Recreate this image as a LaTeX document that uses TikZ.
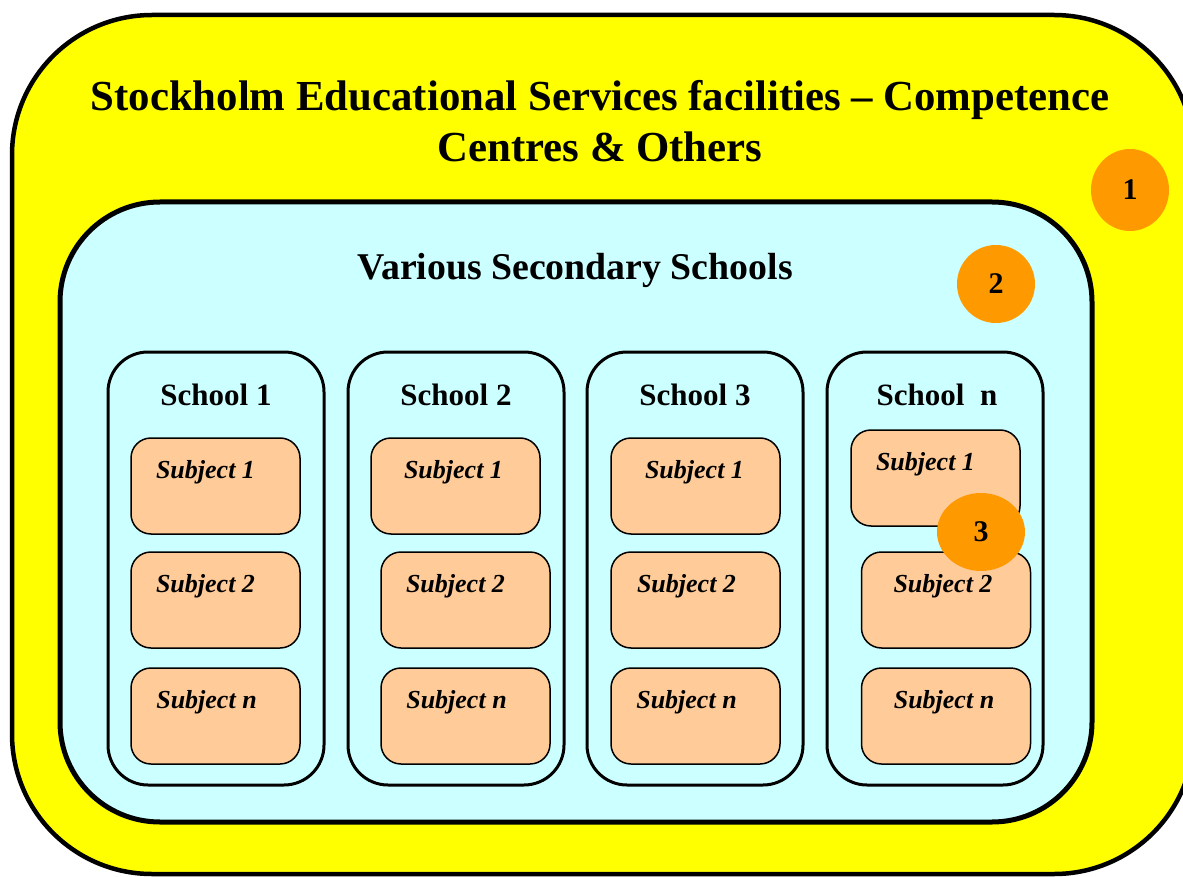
\documentclass[tikz,border=0pt]{standalone}
\usepackage{fontspec}
\setmainfont{Liberation Serif}
\usetikzlibrary{positioning,shapes.geometric}
\definecolor{facyellow}{HTML}{FFFF00}
\definecolor{schoolcyan}{HTML}{CCFFFF}
\definecolor{subjpeach}{HTML}{FFCC99}
\definecolor{markorange}{HTML}{FF9900}
\begin{document}
\begin{tikzpicture}[x=1pt, y=-1pt,
    outer-box/.style={draw=black, fill=facyellow, line width=4.5pt, rounded corners=140pt, minimum width=1182pt, minimum height=859pt, inner sep=0pt},
    various-box/.style={draw=black, fill=schoolcyan, line width=5pt, rounded corners=100pt, minimum width=1032pt, minimum height=620pt, inner sep=0pt},
    school-box/.style={draw=black, fill=schoolcyan, line width=3pt, rounded corners=40pt, minimum width=216pt, minimum height=433pt, inner sep=0pt},
    subject-box/.style={draw=black, fill=subjpeach, line width=1.5pt, rounded corners=20pt, minimum width=169pt, minimum height=96pt, inner sep=0pt},
    subject-text/.style={font=\fontsize{26}{30}\selectfont\bfseries\itshape, inner sep=0pt},
    school-text/.style={font=\fontsize{31}{36}\selectfont\bfseries, inner sep=0pt},
    marker/.style={ellipse, fill=markorange, inner sep=0pt, font=\fontsize{30}{34}\selectfont\bfseries},
  ]
  \useasboundingbox (0,0) rectangle (1183,877);
  \clip (0,0) rectangle (1183,877);

  % Containers
  \node[outer-box] (facilities) at (603,444.5) {};
  \node[font=\fontsize{42.8}{51}\selectfont\bfseries, align=center] (title) at (600,121) {Stockholm Educational Services facilities -- Competence\\Centres \& Others};
  \node[various-box] (various) at (576,512) {};
  \node[font=\fontsize{37.8}{42}\selectfont\bfseries] (variousT) at (575,270) {Various Secondary Schools};

  % Schools
  \node[school-box] (sch1) at (216,568.5) {};
  \node[school-box] (sch2) at (456,568.5) {};
  \node[school-box] (sch3) at (695,568.5) {};
  \node[school-box] (schN) at (935,568.5) {};
  \node[school-text, below=33pt of sch1.north] {School 1};
  \node[school-text, below=33pt of sch2.north] {School 2};
  \node[school-text, below=33pt of sch3.north] {School 3};
  \node[school-text, below=33pt of schN.north, xshift=2pt] {School~ n};

  % Subjects
  \node[subject-box] (s11) at (215.5,486) {};
  \node[subject-box] (s12) at (215.5,600) {};
  \node[subject-box] (s1n) at (215.5,716) {};
  \node[subject-box] (s21) at (455.5,486) {};
  \node[subject-box] (s22) at (465.5,600) {};
  \node[subject-box] (s2n) at (465.5,716) {};
  \node[subject-box] (s31) at (695.5,486) {};
  \node[subject-box] (s32) at (695.5,600) {};
  \node[subject-box] (s3n) at (695.5,716) {};
  \node[subject-box] (sN1) at (935.5,478) {};
  \node[subject-box] (sN2) at (946,600) {};
  \node[subject-box] (sNn) at (946,716) {};

  \node[subject-text, below=23pt of s11.north, xshift=-10pt] {Subject 1};
  \node[subject-text, below=23pt of s12.north, xshift=-10pt] {Subject 2};
  \node[subject-text, below=23pt of s1n.north, xshift=-9pt] {Subject n};
  \node[subject-text, below=23pt of s21.north, xshift=-2pt] {Subject 1};
  \node[subject-text, below=23pt of s22.north, xshift=-10pt] {Subject 2};
  \node[subject-text, below=23pt of s2n.north, xshift=-9pt] {Subject n};
  \node[subject-text, below=23pt of s31.north, xshift=-1pt] {Subject 1};
  \node[subject-text, below=23pt of s32.north, xshift=-9pt] {Subject 2};
  \node[subject-text, below=23pt of s3n.north, xshift=-9pt] {Subject n};
  \node[subject-text, below=23pt of sN1.north, xshift=-10pt] {Subject 1};
  \node[subject-text, below=23pt of sN2.north, xshift=-3pt] {Subject 2};
  \node[subject-text, below=23pt of sNn.north, xshift=-2pt] {Subject n};

  % Level markers
  \node[marker, minimum width=78pt, minimum height=82pt] (m1) at (1130,190) {1};
  \node[marker, minimum width=78pt, minimum height=78pt] (m2) at (996,284) {2};
  \node[marker, minimum width=88pt, minimum height=78pt] (m3) at (981,532) {3};
\end{tikzpicture}
\end{document}
